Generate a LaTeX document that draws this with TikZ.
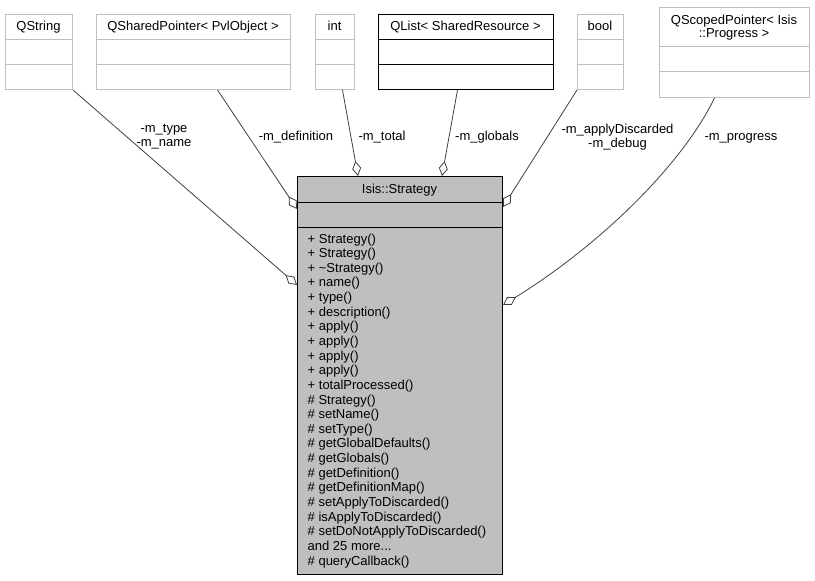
\documentclass[tikz,border=0pt]{standalone}
\usepackage{fontspec}
\setmainfont{Liberation Sans}
\usetikzlibrary{arrows.meta,calc}
\definecolor{lgrey}{HTML}{BFBFBF}
\definecolor{edgec}{HTML}{404040}
\definecolor{sfill}{HTML}{BFBFBF}
\newcommand\moremembers{and 25 more...}
\begin{document}
\begin{tikzpicture}[x=1pt,y=-1pt,
  box/.style={draw=lgrey, line width=1pt, inner sep=0pt, anchor=north west},
  docbox/.style={box, draw=black},
  tx/.style={font=\fontsize{13}{14}\selectfont, inner sep=0pt, anchor=base},
  mem/.style={tx, anchor=base west},
  uses/.style={draw=edgec, line width=0.8pt, -{Diamond[fill=white,length=15pt,width=9pt]}}
]
\useasboundingbox (0,0) rectangle (815,581);

% top classes
\node[box, minimum width=67pt, minimum height=75pt] (qstr) at (5,14) {};
\node[tx] (qstrT) at (38.5,30) {QString};
\draw[lgrey, line width=1pt] ($(qstr.north west)+(0,25)$) -- ($(qstr.north east)+(0,25)$)
  ($(qstr.north west)+(0,50)$) -- ($(qstr.north east)+(0,50)$);

\node[box, minimum width=194pt, minimum height=75pt] (qsp) at (96,14) {};
\node[tx] (qspT) at (193,30) {QSharedPointer< PvlObject >};
\draw[lgrey, line width=1pt] ($(qsp.north west)+(0,25)$) -- ($(qsp.north east)+(0,25)$)
  ($(qsp.north west)+(0,50)$) -- ($(qsp.north east)+(0,50)$);

\node[box, minimum width=39pt, minimum height=75pt] (int) at (315,14) {};
\node[tx] (intT) at (334.5,30) {int};
\draw[lgrey, line width=1pt] ($(int.north west)+(0,25)$) -- ($(int.north east)+(0,25)$)
  ($(int.north west)+(0,50)$) -- ($(int.north east)+(0,50)$);

\node[docbox, minimum width=175pt, minimum height=75pt] (ql) at (378,14) {};
\node[tx] (qlT) at (465.5,30) {QList< SharedResource >};
\draw[black, line width=1pt] ($(ql.north west)+(0,25)$) -- ($(ql.north east)+(0,25)$)
  ($(ql.north west)+(0,50)$) -- ($(ql.north east)+(0,50)$);

\node[box, minimum width=46pt, minimum height=75pt] (bool) at (577,14) {};
\node[tx] (boolT) at (600,30) {bool};
\draw[lgrey, line width=1pt] ($(bool.north west)+(0,25)$) -- ($(bool.north east)+(0,25)$)
  ($(bool.north west)+(0,50)$) -- ($(bool.north east)+(0,50)$);

\node[box, minimum width=150pt, minimum height=90pt] (qsc) at (659,7) {};
\node[tx] (qscT1) at (734,24.5) {QScopedPointer< Isis};
\node[tx] (qscT2) at (734,37.5) {::Progress >};
\draw[lgrey, line width=1pt] ($(qsc.north west)+(0,39)$) -- ($(qsc.north east)+(0,39)$)
  ($(qsc.north west)+(0,64)$) -- ($(qsc.north east)+(0,64)$);

% main class
\node[docbox, fill=sfill, minimum width=205pt, minimum height=398pt] (strat) at (297,176) {};
\node[tx] (stratT) at (399.5,193) {Isis::Strategy};
\draw[black, line width=1pt] ($(strat.north west)+(0,26)$) -- ($(strat.north east)+(0,26)$)
  ($(strat.north west)+(0,51)$) -- ($(strat.north east)+(0,51)$);

\foreach \t [count=\i from 0] in {%
  + Strategy(), + Strategy(), + \textasciitilde Strategy(), + name(), + type(),
  + description(), + apply(), + apply(), + apply(), + apply(), + totalProcessed(),
  \# Strategy(), \# setName(), \# setType(), \# getGlobalDefaults(), \# getGlobals(),
  \# getDefinition(), \# getDefinitionMap(), \# setApplyToDiscarded(),
  \# isApplyToDiscarded(), \# setDoNotApplyToDiscarded(), \moremembers, \# queryCallback()}
  \node[mem] (m\i) at (307.5,{243+14.64*\i}) {\t};

% connectors
\draw[uses] (qstr.south east) -- ($(strat.north west)+(0,109)$);
\draw[uses] ($(qsp.south)+(24,0)$) -- ($(strat.north west)+(0,33)$);
\draw[uses] ($(int.south)+(7.5,0)$) -- ($(strat.north west)+(61,0)$);
\draw[uses] ($(ql.south)+(-8.5,0)$) -- ($(strat.north west)+(145,0)$);
\draw[uses] (bool.south west) -- ($(strat.north east)+(0,31)$);
\draw[uses] ($(qsc.south)+(-20,0)$) .. controls (682,165) and (600,245) .. ($(strat.north east)+(0,129)$);

% labels
\node[tx] (l1a) at (164,132.5) {-m\_type};
\node[tx] (l1b) at (164,146.5) {-m\_name};
\node[tx] (l2) at (296,140) {-m\_definition};
\node[tx] (l3) at (382,140) {-m\_total};
\node[tx] (l4) at (487,140) {-m\_globals};
\node[tx] (l5a) at (617.5,133) {-m\_applyDiscarded};
\node[tx] (l5b) at (617.5,147) {-m\_debug};
\node[tx] (l6) at (741,140) {-m\_progress};
\end{tikzpicture}
\end{document}
